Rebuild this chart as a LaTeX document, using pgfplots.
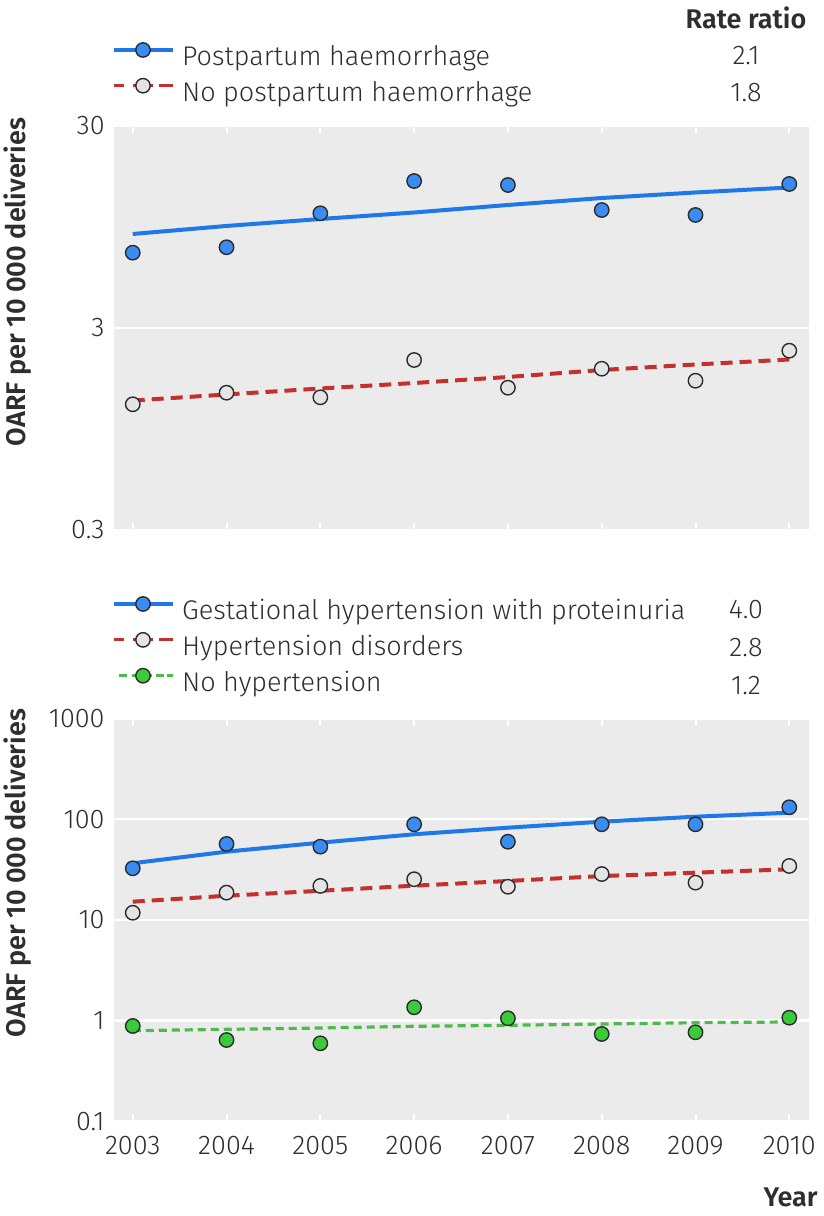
\documentclass[border=0pt]{standalone}
\usepackage{fontspec}
\setmainfont{Fira Sans Light}[BoldFont={Fira Sans SemiBold}]
\usepackage{pgfplots}
\pgfplotsset{compat=1.18}

\definecolor{bg}{HTML}{EBEBEB}
\definecolor{txt}{HTML}{2E2E2E}
\definecolor{bline}{HTML}{1F78E8}
\definecolor{bfill}{HTML}{3A8CF2}
\definecolor{rline}{HTML}{C4302E}
\definecolor{gfill}{HTML}{E4E4E4}
\definecolor{gline}{HTML}{4CBB4C}
\definecolor{gmark}{HTML}{3ACB3A}
\definecolor{edge}{HTML}{2B2B2B}

\newcommand{\fs}{\fontsize{13.5}{15.5}\selectfont}
\newcommand{\fb}{\fontsize{13.5}{15.5}\selectfont\bfseries}

\pgfplotsset{
  mypanel/.style={
    scale only axis, width=347.5pt, anchor=south west,
    xmin=2002.8, xmax=2010.21,
    axis background/.style={fill=bg},
    axis line style={draw=none},
    xtick={2003,2004,2005,2006,2007,2008,2009,2010},
    tick align=inside, major tick length=3.5pt,
    xtick style={draw=white, line width=1pt},
    ytick style={draw=none},
    ymajorgrids, major grid style={white, line width=1.2pt},
    ticklabel style={font=\fs, text=txt},
    yticklabel style={inner sep=0pt, xshift=-4.5pt},
    xticklabel style={inner sep=0pt, yshift=-7pt},
    clip=false,
    legend cell align=left,
    legend style={draw=none, fill=none, inner sep=0pt, outer sep=0pt,
      anchor=north west, font=\fs, text=txt, row sep=5pt, column sep=4pt,
      nodes={inner sep=0pt}},
    legend image code/.code={
      \draw[mark repeat=2, mark phase=2] plot coordinates {(0pt,3.5pt) (14.75pt,3.5pt) (29.5pt,3.5pt)};},
  },
  bl/.style={bline, line width=2pt},
  rl/.style={rline, line width=2pt, dash pattern=on 6pt off 3.5pt},
  gl/.style={gline, line width=1.6pt, dash pattern=on 4pt off 2.5pt},
  mk/.style={only marks, mark=*, mark size=3.6pt, mark options={draw=edge, line width=0.7pt, fill=#1, solid}},
}

\begin{document}
\begin{tikzpicture}
\path[use as bounding box] (0,0) rectangle (412pt,608pt);

% top panel
\begin{axis}[mypanel, ymode=log, at={(57pt,343pt)}, height=202pt,
  ymin=0.3, ymax=30, ytick={0.3,3,30}, yticklabels={0.3,3,30},
  xticklabels={},
  legend style={at={(rel axis cs:-0.003,1.206)}}]
\addlegendimage{bl, line width=1.6pt, mark=*, mark size=3.6pt, mark options={draw=edge, line width=0.7pt, fill=bfill, solid}}
\addlegendimage{rl, line width=1.6pt, dash pattern=on 5pt off 4.5pt on 10pt off 3pt on 7pt, mark=*, mark size=3.6pt, mark options={draw=edge, line width=0.7pt, fill=gfill, solid}}
\addplot[bl, forget plot] coordinates {
  (2003,8.76) (2004,9.60) (2005,10.39) (2006,11.19) (2007,12.19) (2008,13.20) (2009,14.06) (2010,14.88)};
\addplot[rl, forget plot] coordinates {
  (2003,1.312) (2004,1.406) (2005,1.505) (2006,1.602) (2007,1.716) (2008,1.859) (2009,1.979) (2010,2.095)};
\addplot[mk=bfill, forget plot] coordinates {
  (2003,7.08) (2004,7.53) (2005,11.09) (2006,16.02) (2007,15.31) (2008,11.51) (2009,10.88) (2010,15.49)};
\addplot[mk=gfill, forget plot] coordinates {
  (2003,1.257) (2004,1.435) (2005,1.361) (2006,2.083) (2007,1.519) (2008,1.886) (2009,1.645) (2010,2.316)};
\legend{Postpartum haemorrhage, No postpartum haemorrhage}
\end{axis}

% bottom panel
\begin{axis}[mypanel, ymode=log, at={(57pt,47.3pt)}, height=201.4pt,
  ymin=0.1, ymax=1000, ytick={0.1,1,10,100,1000}, yticklabels={0.1,1,10,100,1000},
  xticklabels={2003,2004,2005,2006,2007,2008,2009,2010},
  legend style={at={(rel axis cs:-0.003,1.3024)}}]
\addlegendimage{bl, line width=1.6pt, mark=*, mark size=3.6pt, mark options={draw=edge, line width=0.7pt, fill=bfill, solid}}
\addlegendimage{rl, line width=1.6pt, dash pattern=on 5pt off 4.5pt on 10pt off 3pt on 7pt, mark=*, mark size=3.6pt, mark options={draw=edge, line width=0.7pt, fill=gfill, solid}}
\addlegendimage{gl, line width=1.6pt, dash pattern=on 0pt off 2.5pt on 4pt off 2.5pt on 10pt off 2pt on 4pt off 1.5pt on 4pt, mark=*, mark size=3.6pt, mark options={draw=edge, line width=0.7pt, fill=gmark, solid}}
\addplot[bl, forget plot] coordinates {
  (2003,36.6) (2004,47.7) (2005,58.6) (2006,71.0) (2007,82.5) (2008,94.7) (2009,106.1) (2010,116.3)};
\addplot[rl, forget plot] coordinates {
  (2003,15.2) (2004,17.4) (2005,19.5) (2006,21.9) (2007,24.4) (2008,27.3) (2009,29.5) (2010,31.9)};
\addplot[gl, forget plot] coordinates {
  (2003,0.796) (2004,0.821) (2005,0.846) (2006,0.880) (2007,0.900) (2008,0.927) (2009,0.955) (2010,0.971)};
\addplot[mk=bfill, forget plot] coordinates {
  (2003,32.6) (2004,56.9) (2005,53.5) (2006,89.2) (2007,59.9) (2008,89.2) (2009,89.2) (2010,131.6)};
\addplot[mk=gfill, forget plot] coordinates {
  (2003,11.8) (2004,18.7) (2005,21.8) (2006,25.4) (2007,21.4) (2008,28.6) (2009,23.5) (2010,34.4)};
\addplot[mk=gmark, forget plot] coordinates {
  (2003,0.886) (2004,0.643) (2005,0.596) (2006,1.359) (2007,1.056) (2008,0.738) (2009,0.767) (2010,1.071)};
\legend{Gestational hypertension with proteinuria, Hypertension disorders, No hypertension}
\end{axis}

% rate ratio column, axis titles
\begin{scope}[every node/.style={text=txt, inner sep=0pt, font=\fs}]
\node[font=\fb] at (373pt,599.25pt) {Rate ratio};
\node at (373pt,580pt) {2.1};
\node at (373pt,561.5pt) {1.8};
\node at (373pt,303pt) {4.0};
\node at (373pt,284pt) {2.8};
\node at (373pt,265pt) {1.2};
\node[font=\fb, rotate=90] at (8.75pt,467pt) {OARF per 10 000 deliveries};
\node[font=\fb, rotate=90] at (8.75pt,171.5pt) {OARF per 10 000 deliveries};
\node[font=\fb, anchor=east] at (409pt,9.5pt) {Year};
\end{scope}
\end{tikzpicture}
\end{document}
